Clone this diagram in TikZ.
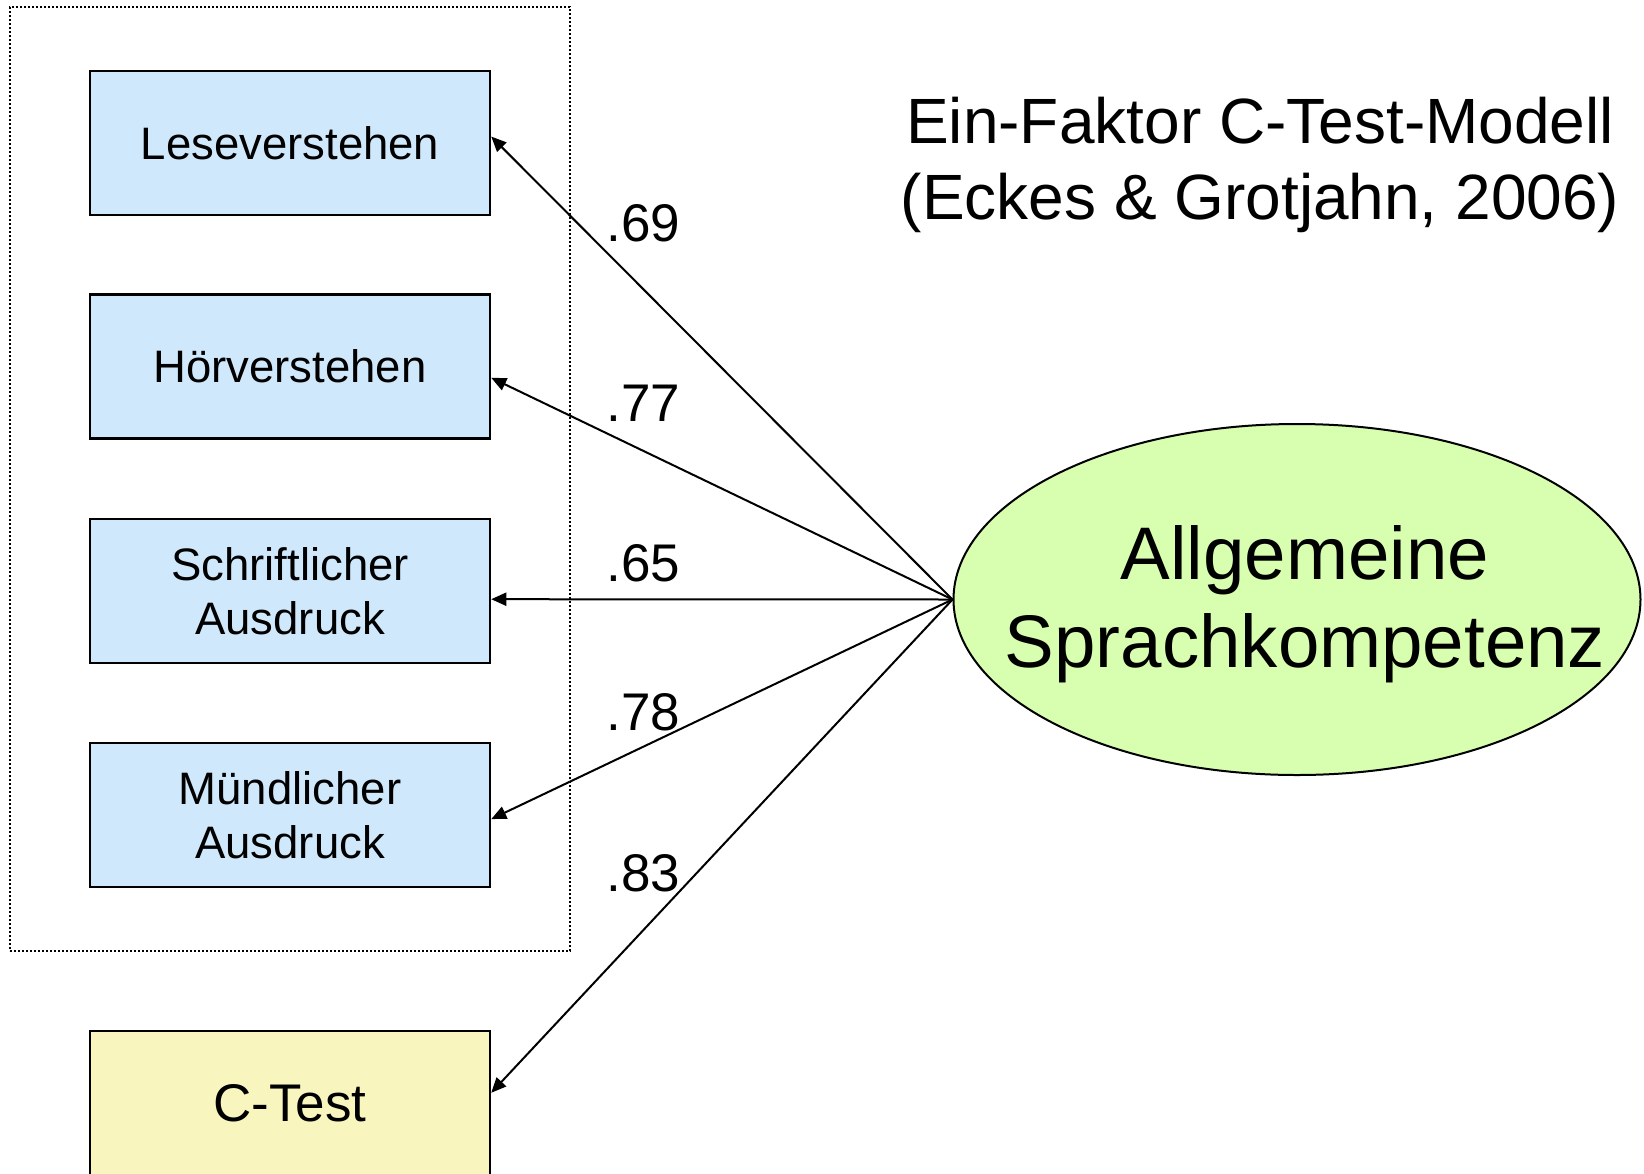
\documentclass[tikz,border=0pt]{standalone}
\usepackage{fontspec}
\setmainfont{Liberation Sans}
\usetikzlibrary{arrows.meta,calc,shapes.geometric}

\definecolor{boxblue}{RGB}{207,232,251}
\definecolor{boxyellow}{RGB}{248,246,190}
\definecolor{factorgreen}{RGB}{216,255,176}

\begin{document}
\begin{tikzpicture}[x=1pt,y=-1pt,
  indicator/.style={draw=black, line width=2.5pt, fill=boxblue,
    minimum width=400pt, minimum height=144pt, inner sep=0pt,
    align=center, font=\fontsize{45.5}{54}\selectfont},
  ctest/.style={indicator, fill=boxyellow, font=\fontsize{53}{60}\selectfont},
  loading/.style={draw=black, line width=2pt, -{Triangle[length=15pt,width=13pt]}},
  coef/.style={anchor=base west, inner sep=0pt, font=\fontsize{53}{60}\selectfont}]

\useasboundingbox (0,0) rectangle (1644,1173);
\fill[white] (0,0) rectangle (1644,1173);

% dotted frame around the four skill measures
\node[draw=black, line width=2pt, dash pattern=on 2pt off 2pt,
      minimum width=560pt, minimum height=944pt, inner sep=0pt] (group) at (290,479) {};

% observed indicators
\node[indicator] (b1) at (290,143) {Leseverstehen};
\node[indicator] (b2) at (290,366.5) {Hörverstehen};
\node[indicator] (b3) at (290,591) {Schriftlicher\\Ausdruck};
\node[indicator] (b4) at (290,815) {Mündlicher\\Ausdruck};
\node[ctest] (b5) at (290,1103) {C-Test};

% latent factor
\node[ellipse, draw=black, line width=2pt, fill=factorgreen,
      minimum width=687pt, minimum height=351pt, inner sep=0pt] (g) at (1297,599.5) {};
\node[align=center, inner sep=0pt, font=\fontsize{74.5}{88}\selectfont] (gtext) at (1305,604)
  {Allgemeine\\Sprachkompetenz};

% title
\node[align=center, inner sep=0pt, font=\fontsize{64}{76.5}\selectfont] (title) at (1260,165)
  {Ein-Faktor C-Test-Modell\\(Eckes \& Grotjahn, 2006)};

% arrow end points on the right sides of the boxes
\coordinate (e1) at ($(b1.north east)!0.456!(b1.south east)$);
\coordinate (e2) at ($(b2.north east)!0.577!(b2.south east)$);
\coordinate (e3) at ($(b3.north east)!0.556!(b3.south east)$);
\coordinate (e4) at ($(b4.north east)!0.528!(b4.south east)$);
\coordinate (e5) at ($(b5.north east)!0.430!(b5.south east)$);

% factor loadings
\draw[loading] (g.west) -- (e1);
\draw[loading] (g.west) -- (e2);
\draw[loading] (g.west) -- (e3);
\draw[loading] (g.west) -- (e4);
\draw[loading] (g.west) -- (e5);

\node[coef] (l1) at (606.5,241) {.69};
\node[coef] (l2) at (606.5,421) {.77};
\node[coef] (l3) at (606.5,581) {.65};
\node[coef] (l4) at (606.5,730.5) {.78};
\node[coef] (l5) at (606.5,891) {.83};
\end{tikzpicture}
\end{document}
